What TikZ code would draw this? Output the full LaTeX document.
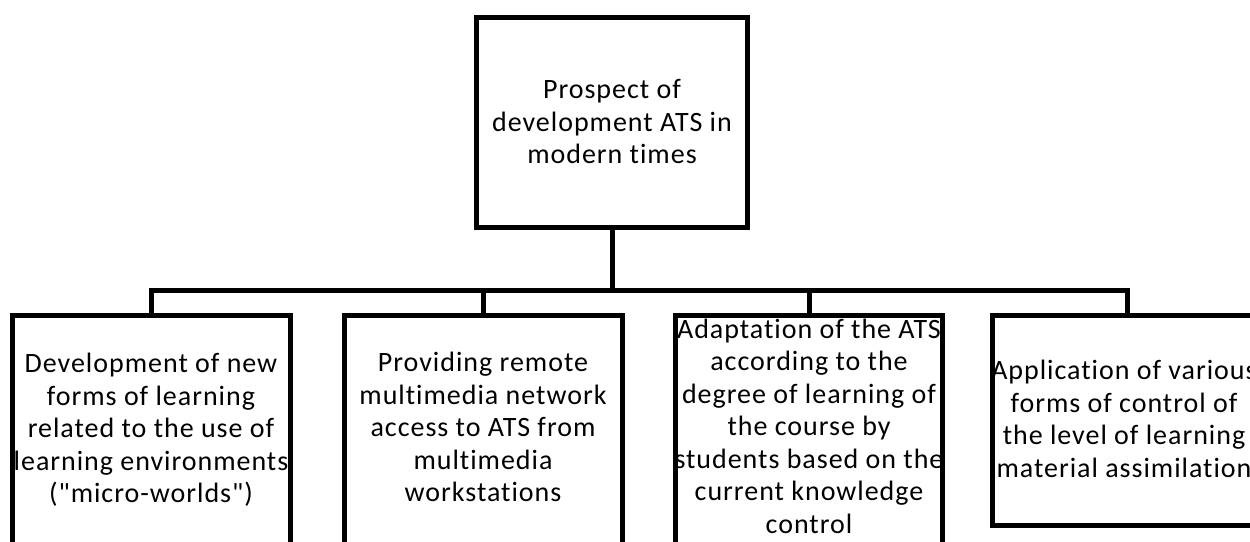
\documentclass[tikz,border=0pt]{standalone}
\usepackage{fontspec}
\setmainfont{Carlito}[Ligatures={TeXOff,CommonOff},LetterSpace=3.5]
\begin{document}
\begin{tikzpicture}[x=1pt,y=-1pt,
  box/.style={draw=black, line width=5pt, inner sep=0pt, fill=white},
  lbl/.style={align=center, font=\fontsize{28}{32.5}\selectfont, inner sep=0pt, text=black},
  conn/.style={draw=black, line width=5pt}]
\useasboundingbox (0,0) rectangle (1250,541);
\clip (0,0) rectangle (1250,541);
\fill[white] (0,0) rectangle (1250,541);
% boxes
\node[box, minimum width=271pt, minimum height=210pt] (top) at (612,122.5) {};
\node[box, minimum width=278pt, minimum height=254.5pt] (b1) at (151.5,442.75) {};
\node[box, minimum width=278pt, minimum height=254.5pt] (b2) at (483.5,442.75) {};
\node[box, minimum width=267pt, minimum height=254.5pt] (b3) at (809,442.75) {};
\node[box, minimum width=269.5pt, minimum height=210pt] (b4) at (1127.25,420.5) {};
% texts
\node[lbl] (t0) at (612,122) {Prospect of\\development ATS in\\modern times};
\node[lbl] (t1) at (151,430) {Development of new\\forms of learning\\related to the use of\\learning environments\\("micro-worlds")};
\node[lbl] (t2) at (483,427) {Providing remote\\multimedia network\\access to ATS from\\multimedia\\workstations};
\node[lbl] (t3) at (809,426) {Adaptation of the ATS\\according to the\\degree of learning of\\the course by\\students based on the\\current knowledge\\control};
\node[lbl] (t4) at (1124,419) {Application of various\\forms of control of\\the level of learning\\material assimilation};
% connectors
\coordinate (j) at (612,290);
\draw[conn] (top.south) -- (j);
\draw[conn] (b1.north) -- (b1.north |- j) -- (b4.north |- j) -- (b4.north);
\draw[conn] (b2.north) -- (b2.north |- j);
\draw[conn] (b3.north) -- (b3.north |- j);
\end{tikzpicture}
\end{document}
